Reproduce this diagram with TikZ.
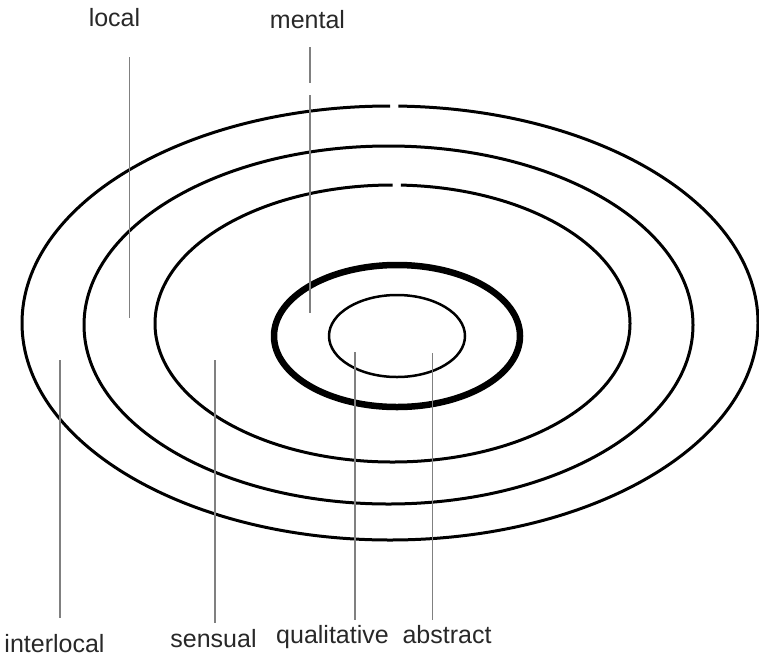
\documentclass[tikz,border=0pt]{standalone}
\usepackage{fontspec}
\setmainfont{Liberation Sans}
\definecolor{leadgray}{RGB}{128,128,128}
\definecolor{txtgray}{RGB}{40,40,40}
\begin{document}
\begin{tikzpicture}[x=1pt,y=1pt,
  ring/.style={line width=3pt, black},
  thickring/.style={line width=6.5pt, black},
  thinring/.style={line width=2.5pt, black},
  leader/.style={line width=1.5pt, leadgray},
  lbl/.style={font=\fontsize{25}{30}\selectfont, text=txtgray, inner sep=0pt, anchor=base}]
\useasboundingbox (0,0) rectangle (759,-656);
% rings
\draw[ring] (390,-323) ++(90:368 and 217) arc[start angle=90, end angle=448.7, x radius=368, y radius=217];
\draw[ring] (388.5,-325) ellipse[x radius=304.5, y radius=179];
\draw[ring] (392.5,-323.5) ++(90:237.5 and 138.5) arc[start angle=90, end angle=448, x radius=237.5, y radius=138.5];
\draw[thickring] (397,-336) ellipse[x radius=123, y radius=71];
\draw[thinring] (397,-336) ellipse[x radius=68, y radius=41];
% labels
\node[lbl] (local) at (114.5,-26) {local};
\node[lbl] (mental) at (307.5,-28) {mental};
\node[lbl] (interlocal) at (54.5,-652) {interlocal};
\node[lbl] (sensual) at (213.5,-647) {sensual};
\node[lbl] (qualitative) at (332.5,-643) {qualitative};
\node[lbl] (abstract) at (447,-643) {abstract};
% leader lines
\coordinate (localT) at (129.5,-57);
\coordinate (localB) at (129.5,-318);
\coordinate (mentalT) at (310,-47);
\coordinate (mentalM1) at (310,-83);
\coordinate (mentalM2) at (310,-95);
\coordinate (mentalB) at (310,-313);
\coordinate (interT) at (60,-360);
\coordinate (interB) at (60,-618);
\coordinate (sensT) at (215,-360);
\coordinate (sensB) at (215,-623);
\coordinate (qualT) at (355,-352);
\coordinate (qualB) at (355,-620);
\coordinate (abstT) at (432.5,-353);
\coordinate (abstB) at (432.5,-620);
\draw[leader] (localT) -- (localB);
\draw[leader] (mentalT) -- (mentalM1);
\draw[leader] (mentalM2) -- (mentalB);
\draw[leader] (interT) -- (interB);
\draw[leader] (sensT) -- (sensB);
\draw[leader] (qualT) -- (qualB);
\draw[leader] (abstT) -- (abstB);
\end{tikzpicture}
\end{document}
